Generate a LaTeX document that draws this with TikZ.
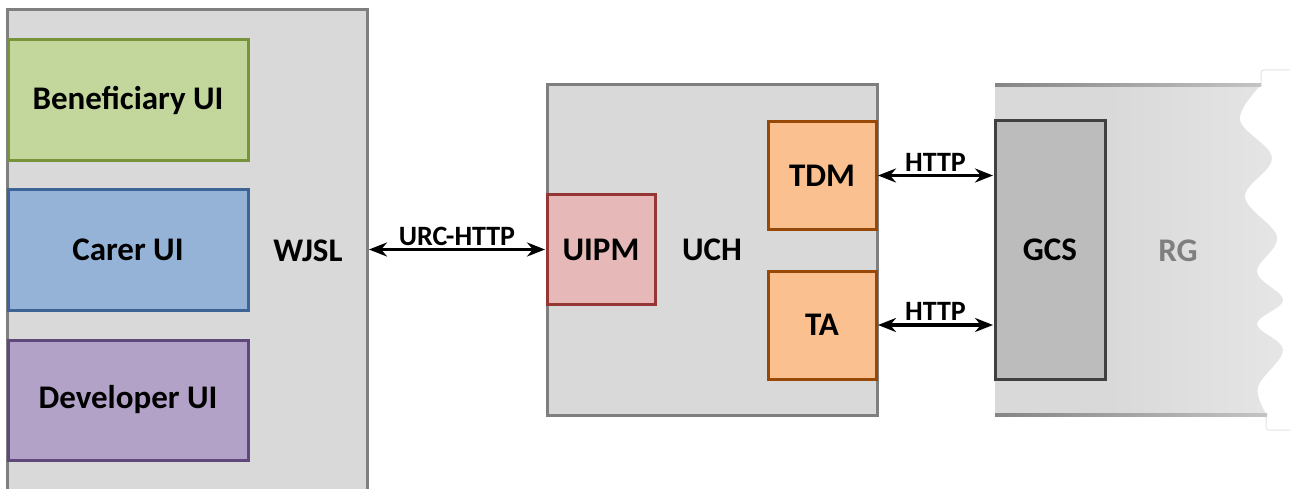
\documentclass[tikz,border=0pt]{standalone}
\usepackage{fontspec}
\setmainfont{Carlito}
\usetikzlibrary{arrows.meta}
\definecolor{panelfill}{HTML}{D9D9D9}
\definecolor{panelline}{HTML}{7F7F7F}
\definecolor{greenfill}{HTML}{C3D69B}
\definecolor{greenline}{HTML}{77933C}
\definecolor{bluefill}{HTML}{95B3D7}
\definecolor{blueline}{HTML}{3E6496}
\definecolor{purplefill}{HTML}{B3A2C7}
\definecolor{purpleline}{HTML}{5F497A}
\definecolor{redfill}{HTML}{E6B9B8}
\definecolor{redline}{HTML}{953735}
\definecolor{orangefill}{HTML}{FAC090}
\definecolor{orangeline}{HTML}{984807}
\definecolor{gcsfill}{HTML}{BCBCBC}
\definecolor{gcsline}{HTML}{404040}
\definecolor{rglabel}{HTML}{7F7F7F}
\definecolor{fadeA}{HTML}{D9D9D9}
\definecolor{fadeB}{HTML}{F0F0F0}
\definecolor{edgeA}{HTML}{858585}
\definecolor{edgeB}{HTML}{C4C4C4}
\definecolor{faint}{HTML}{E4E4E4}
\pgfdeclarehorizontalshading{rgfade}{100bp}{color(0bp)=(fadeA); color(45bp)=(fadeA); color(100bp)=(fadeB)}
\tikzset{
  bigfont/.style={font=\fontsize{33}{40}\selectfont\bfseries},
  smallfont/.style={font=\fontsize{28}{34}\selectfont\bfseries},
  panel/.style={draw=panelline, fill=panelfill, line width=3pt, rectangle, inner sep=0pt},
  uibox/.style={rectangle, line width=3pt, minimum width=240pt, inner sep=0pt, bigfont},
  modbox/.style={rectangle, line width=3pt, minimum width=108pt, minimum height=108pt, inner sep=0pt, bigfont},
  link/.style={line width=3.5pt, {Stealth[length=18pt,width=14pt]}-{Stealth[length=18pt,width=14pt]}, shorten <=0.5pt, shorten >=0.5pt}
}
\begin{document}
\begin{tikzpicture}[x=1pt,y=-1pt]
\useasboundingbox (0,0) rectangle (1290,489);
\clip (0,0) rectangle (1290,489);

% WJSL panel with the three user interfaces
\node[panel, minimum width=360pt, minimum height=500pt] (wjsl) at (187,260) {};
\node[uibox, draw=greenline, fill=greenfill, minimum height=121pt] (benef) at (128,100.5) {Beneficiary UI};
\node[uibox, draw=blueline, fill=bluefill, minimum height=120pt] (carer) at (128,250) {Carer UI};
\node[uibox, draw=purpleline, fill=purplefill, minimum height=120pt] (dev) at (128,400) {Developer UI};
\node[bigfont] (wjsllabel) at (308,251) {WJSL};

% UCH panel
\node[panel, minimum width=330pt, minimum height=330pt, bigfont] (uch) at (712,250) {UCH};
\node[modbox, draw=redline, fill=redfill, minimum height=109pt] (uipm) at (601,249.5) {UIPM};
\node[modbox, draw=orangeline, fill=orangefill] (tdm) at (822,175.5) {TDM};
\node[modbox, draw=orangeline, fill=orangefill] (ta) at (822,325) {TA};

% RG panel with torn right edge
\draw[faint, line width=1pt, rounded corners=3pt] (1291,70) -- (1261,70) -- (1261,86);
\draw[faint, line width=1pt, rounded corners=3pt] (1266,414) -- (1266,430) -- (1291,430);
\shade[shading=rgfade] (995,85) -- (1261,85)
  -- plot[smooth, tension=0.6] coordinates {(1261,85) (1240,120) (1272,158) (1245,197) (1277,237) (1257,272) (1283,300) (1257,324) (1283,350) (1258,387) (1267,415)}
  -- (995,415) -- cycle;
\shade[left color=edgeA, right color=edgeB] (995,83.5) rectangle (1261,86.5);
\shade[left color=edgeA, right color=edgeB] (995,413.5) rectangle (1267,416.5);
\coordinate (rgleft) at (995,250);
\node[rectangle, draw=gcsline, fill=gcsfill, line width=3pt, minimum width=110pt, minimum height=258pt, inner sep=0pt, bigfont] (gcs) at (1050,250) {GCS};
\node[bigfont, text=rglabel] (rg) at (1178,251) {RG};

% Connections
\draw[link] (wjsl.east |- uipm.west) -- node[smallfont, above=-1pt] {URC-HTTP} (uipm.west);
\draw[link] (tdm.east) -- node[smallfont, above=-1pt] {HTTP} (gcs.west |- tdm.east);
\draw[link] (ta.east) -- node[smallfont, above=-1pt] {HTTP} (gcs.west |- ta.east);
\end{tikzpicture}
\end{document}
